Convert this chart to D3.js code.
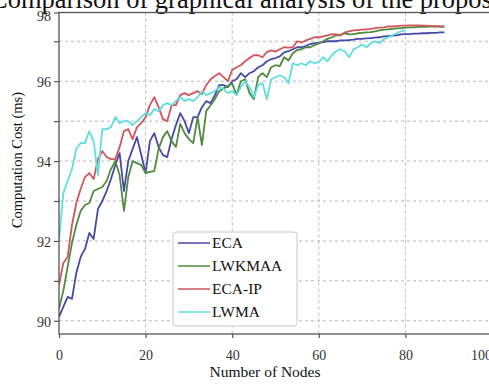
<!DOCTYPE html>
<html>
<head>
<meta charset="utf-8">
<script src="https://cdn.jsdelivr.net/npm/d3@7"></script>
<style>
  body { margin: 0; background: #fff; }
  svg, svg text { font-family: "Liberation Serif", "Times New Roman", serif; }
  svg { display: block; }
</style>
</head>
<body>
<script>
// values, one per node (x = index)
const eca = [90.1, 90.35, 90.6, 90.55, 91.2, 91.6, 91.8, 92.2, 92.05, 92.8,
  93.0, 93.25, 93.55, 93.9, 94.2, 93.25, 94.0, 94.3, 94.6, 94.15,
  93.7, 94.5, 94.7, 94.35, 94.15, 94.1, 94.55, 94.9, 95.2, 95.0,
  94.7, 95.1, 95.1, 95.35, 95.5, 95.45, 95.65, 95.9, 95.9, 95.85,
  96.0, 96.05, 96.2, 96.1, 96.2, 96.25, 96.35, 96.4, 96.5, 96.55,
  96.58, 96.62, 96.72, 96.75, 96.8, 96.85, 96.85, 96.88, 96.93, 96.95,
  96.96, 96.98, 97.0, 97.0, 97.0, 97.02, 97.02, 97.03, 97.04, 97.06,
  97.06, 97.07, 97.08, 97.09, 97.1, 97.12, 97.13, 97.14, 97.15, 97.17,
  97.18, 97.18, 97.19, 97.19, 97.2, 97.2, 97.21, 97.21, 97.22, 97.22];

const lwkmaa = [90.3, 90.75, 91.35, 91.95, 92.4, 92.75, 92.9, 92.95, 93.25, 93.3,
  93.35, 93.5, 93.8, 94.0, 93.65, 92.75, 93.6, 94.0, 93.95, 93.9,
  93.7, 93.73, 93.75, 94.3, 94.6, 94.75, 94.5, 94.35, 94.93, 94.7,
  94.55, 94.45, 95.1, 94.4, 95.25, 95.4, 95.55, 95.75, 95.82, 95.88,
  95.95, 95.65, 96.0, 96.05, 95.7, 95.55, 96.1, 96.2, 96.1, 96.35,
  96.4, 96.38, 96.6, 96.52, 96.7, 96.78, 96.8, 96.85, 96.85, 96.9,
  96.95, 97.0, 97.06, 97.1, 97.15, 97.15, 97.2, 97.17, 97.18, 97.2,
  97.21, 97.22, 97.23, 97.25, 97.27, 97.29, 97.3, 97.31, 97.32, 97.33,
  97.34, 97.35, 97.35, 97.36, 97.36, 97.36, 97.37, 97.37, 97.37, 97.36];

const ecaIp = [90.9, 91.45, 91.6, 92.4, 92.95, 93.3, 93.6, 93.7, 93.55, 94.05,
  94.25, 94.1, 94.05, 94.05, 94.35, 94.75, 94.8, 94.55, 94.85, 94.95,
  95.1, 95.4, 95.6, 95.35, 95.05, 95.0, 95.4, 95.4, 95.65, 95.7,
  95.65, 95.7, 95.75, 95.68, 95.9, 96.05, 96.13, 96.2, 96.1, 96.0,
  96.28, 96.35, 96.4, 96.5, 96.58, 96.65, 96.65, 96.6, 96.73, 96.77,
  96.74, 96.8, 96.85, 96.84, 96.85, 97.0, 96.97, 97.02, 97.06, 97.1,
  97.1, 97.12, 97.15, 97.18, 97.17, 97.15, 97.22, 97.25, 97.27, 97.28,
  97.29, 97.3, 97.31, 97.33, 97.34, 97.35, 97.37, 97.37, 97.38, 97.39,
  97.39, 97.4, 97.4, 97.4, 97.39, 97.39, 97.38, 97.38, 97.37, 97.37];

const lwma = [92.0, 93.2, 93.5, 93.8, 94.3, 94.45, 94.45, 94.75, 94.5, 93.65,
  94.8, 94.8, 94.85, 95.1, 94.95, 95.0, 95.0, 94.9, 95.0, 95.1,
  95.2, 95.15, 95.3, 95.25, 95.4, 95.45, 95.4, 95.5, 95.6, 95.5,
  95.55, 95.5, 95.6, 95.75, 95.65, 95.7, 95.75, 95.85, 95.8, 95.7,
  95.75, 95.65, 95.85, 96.0, 95.85, 95.6, 95.9, 95.95, 95.55, 96.05,
  96.1, 96.15, 96.1, 95.95, 96.45, 96.4, 96.45, 96.4, 96.5, 96.45,
  96.48, 96.6, 96.5, 96.65, 96.75, 96.8, 96.75, 96.6, 96.8, 96.85,
  96.92, 96.85, 96.95, 97.0, 96.95, 97.05, 97.1, 97.15, 97.2, 97.25,
  97.28];

const seriesNames = ["ECA", "LWKMAA", "ECA-IP", "LWMA"];
const seriesColors = ["#4848a8", "#4c8c3c", "#d2565c", "#5edede"];
const xTicks = [0, 20, 40, 60, 80, 100];
const yTicks = [90, 91, 92, 93, 94, 95, 96, 97, 98];
const yGrid = [90, 91, 92, 93, 94, 95, 96, 97];

const width = 489, height = 386;
const mLeft = 59, mTop = 12.5, mRight = 492, mBottom = 334;
const serif = '"Liberation Serif", "Times New Roman", serif';

const svg = d3.select("body").append("svg")
  .attr("width", width)
  .attr("height", height);

const x = d3.scaleLinear().domain([0, 100]).range([mLeft, mRight]);
const y = d3.scaleLinear().domain([89.67, 97.72]).range([mBottom, mTop]).clamp(true);

// cropped caption above the figure
svg.append("text")
  .attr("x", -10)
  .attr("y", 7.5)
  .attr("font-size", 26.5)
  .attr("fill", "#111")
  .text("Comparison of graphical analysis of the proposed");

svg.append("clipPath").attr("id", "plot")
  .append("rect")
  .attr("x", mLeft).attr("y", mTop)
  .attr("width", mRight - mLeft).attr("height", mBottom - mTop);

// dashed grid
svg.append("g").selectAll("line")
  .data(yGrid)
  .join("line")
  .attr("x1", mLeft).attr("x2", mRight)
  .attr("y1", d => y(d)).attr("y2", d => y(d))
  .attr("stroke", "#b8b8b8")
  .attr("stroke-dasharray", "3,3");

svg.append("g").selectAll("line")
  .data(xTicks.filter(d => d > 0 && d < 100))
  .join("line")
  .attr("x1", d => x(d)).attr("x2", d => x(d))
  .attr("y1", mTop).attr("y2", mBottom)
  .attr("stroke", "#b8b8b8")
  .attr("stroke-dasharray", "3,3");

// lines
const line = d3.line()
  .x((d, i) => x(i))
  .y(d => y(d));

const allSeries = [eca, lwkmaa, ecaIp, lwma];

svg.append("g")
  .attr("clip-path", "url(#plot)")
  .selectAll("path")
  .data(allSeries)
  .join("path")
  .attr("d", d => line(d))
  .attr("fill", "none")
  .attr("stroke", (d, i) => seriesColors[i])
  .attr("stroke-width", 1.8)
  .attr("stroke-linejoin", "round");

// frame
svg.append("rect")
  .attr("x", mLeft).attr("y", mTop)
  .attr("width", mRight - mLeft).attr("height", mBottom - mTop)
  .attr("fill", "none")
  .attr("stroke", "#555")
  .attr("stroke-width", 1.3);

// axes
const yAxis = svg.append("g")
  .attr("transform", `translate(${mLeft},0)`)
  .call(d3.axisLeft(y).tickValues(yTicks).tickSize(5).tickPadding(3)
    .tickFormat(d => d % 2 === 0 ? d : ""));

const xAxis = svg.append("g")
  .attr("transform", `translate(0,${mBottom})`)
  .call(d3.axisBottom(x).tickValues(xTicks).tickSize(4).tickPadding(12));

[xAxis, yAxis].forEach(g => {
  g.attr("font-family", null);
  g.select(".domain").remove();
  g.selectAll(".tick line").attr("stroke", "#555").attr("stroke-width", 1.2);
  g.selectAll(".tick text")
    .style("font-family", serif)
    .attr("font-size", 14)
    .attr("fill", "#333");
});

// the right-most label sits left of its tick in the source figure
xAxis.selectAll(".tick text").attr("dx", d => d === 100 ? -11 : 0);
yAxis.selectAll(".tick text").attr("dy", d => d === 98 ? "0.55em" : "0.4em");

// axis titles
svg.append("text")
  .attr("x", 265)
  .attr("y", 377)
  .attr("text-anchor", "middle")
  .attr("font-size", 15.5)
  .attr("fill", "#111")
  .text("Number of Nodes");

svg.append("text")
  .attr("transform", "translate(22,160) rotate(-90)")
  .attr("text-anchor", "middle")
  .attr("font-size", 14.5)
  .attr("fill", "#111")
  .text("Computation Cost (ms)");

// legend
const legend = svg.append("g");

legend.append("rect")
  .attr("x", 173).attr("y", 232)
  .attr("width", 124).attr("height", 94)
  .attr("rx", 3)
  .attr("fill", "#fff")
  .attr("stroke", "#c8c8c8");

const item = legend.selectAll("g.item")
  .data(seriesNames)
  .join("g")
  .attr("class", "item")
  .attr("transform", (d, i) => `translate(0,${243 + i * 23})`);

item.append("line")
  .attr("x1", 178).attr("x2", 210)
  .attr("stroke", (d, i) => seriesColors[i])
  .attr("stroke-width", 2)
  .attr("opacity", 0.75);

item.append("text")
  .attr("x", 212)
  .attr("y", 5)
  .attr("font-size", 15.5)
  .attr("fill", "#111")
  .text(d => d);
</script>
</body>
</html>
